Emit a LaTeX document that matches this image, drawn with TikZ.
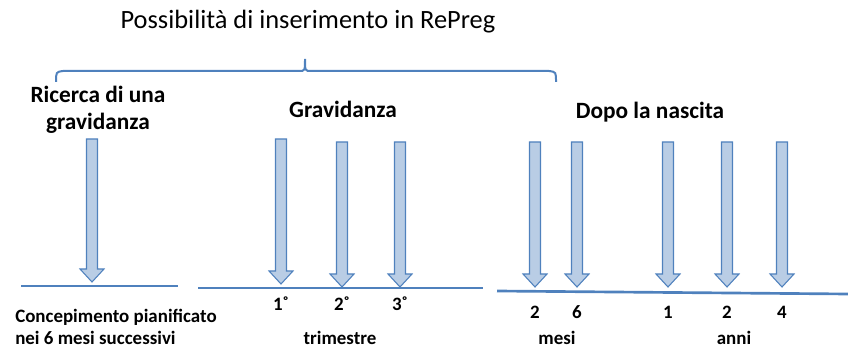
\documentclass[tikz,border=0pt]{standalone}
\usepackage{fontspec}
\setmainfont{Carlito}
\usetikzlibrary{positioning}
\definecolor{axisblue}{HTML}{4F81BD}
\definecolor{arrowfill}{HTML}{B9CDE5}

\begin{document}
\begin{tikzpicture}[x=0.75pt,y=-0.75pt]
\tikzset{every node/.style={inner sep=0pt,align=center}}
\tikzset{downarrow/.style={draw=axisblue,fill=arrowfill,line width=0.8pt,line join=miter}}
\tikzset{timeline/.style={draw=axisblue,line width=2pt}}
\tikzset{heading/.style={font=\bfseries\fontsize{17.5}{20.5}\selectfont}}
\tikzset{ticklabel/.style={font=\bfseries\fontsize{14.2}{17}\selectfont}}
\useasboundingbox (0,0) rectangle (848,348);
% title and brace
\node (title) at (308,22) {\fontsize{19.8}{23}\selectfont Possibilità di inserimento in RePreg};
\draw[axisblue,line width=1.5pt] (56,82) .. controls (56,72) .. (63,71) -- (299,71)
  .. controls (305,71) .. (305,59) .. controls (305,71) .. (311,71) -- (549,71)
  .. controls (556,72) .. (556,82);
% headings
\node[heading] (ricerca) at (98,110) {Ricerca di una\\gravidanza};
\node[heading] (gravidanza) at (343,109) {Gravidanza};
\node[heading] (nascita) at (650,112) {Dopo la nascita};
% block arrows
\foreach \x/\top/\tip in {92/139/282, 281/139/284, 342/142/287, 400/142/287,
    535/142/287, 577/142/287, 668/142/287, 727/142/287, 782/142/287}
  \draw[downarrow] (\x-5.5,\top) -- (\x+5.5,\top) -- (\x+5.5,\tip-13) -- (\x+12,\tip-13)
    -- (\x,\tip) -- (\x-12,\tip-13) -- (\x-5.5,\tip-13) -- cycle;
% time lines
\draw[timeline] (21,286) -- (178,286);
\draw[timeline] (198,288) -- (483,288);
\draw[timeline] (497,291) -- (848,294);
% labels under the lines
\node[ticklabel,anchor=west,align=left] (concepimento) at (15,327) {Concepimento pianificato\\nei 6 mesi successivi};
\foreach \x/\lab/\name in {281/1˚/t1, 342/2˚/t2, 400/3˚/t3}
  \node[ticklabel] (\name) at (\x,304) {\lab};
\foreach \x/\lab/\name in {535/2/m2, 577/6/m6, 668/1/a1, 727/2/a2, 782/4/a4}
  \node[ticklabel] (\name) at (\x,312) {\lab};
\node[ticklabel] (trimestre) at (340,338) {trimestre};
\node[ticklabel] (mesi) at (557,338) {mesi};
\node[ticklabel] (anni) at (734,338) {anni};
\end{tikzpicture}
\end{document}
